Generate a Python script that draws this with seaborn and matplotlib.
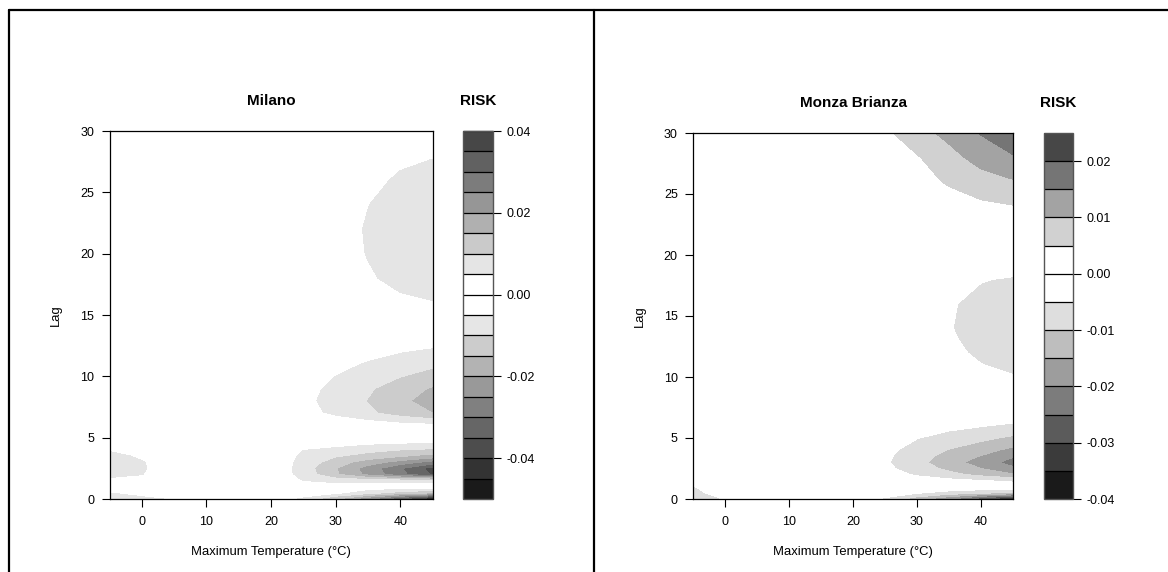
import numpy as np
import matplotlib
matplotlib.use("Agg")
import matplotlib.pyplot as plt
from matplotlib.lines import Line2D
import seaborn as sns

# grid of the risk surfaces
temps = [-5, 0, 5, 10, 15, 20, 25, 30, 35, 40, 45]
lags = [0, 0.5, 1, 1.5, 2, 2.5, 3, 3.5, 4, 5, 6, 7, 8, 9, 10, 11, 12, 13, 14,
        16, 18, 20, 22, 24, 26, 28, 30]

# Milano, rows = lags, columns = temps (values x 0.001)
milano_risk = np.array([
    [-11, -7.5, -4.9, -2, -1, -2, -7, -15, -25, -36, -47],
    [-5.8, -3, -1, 0, 0, 0, -1, -4, -8, -12, -15],
    [-1, 0, 0, 0, 0, 0, -2, -3, -2.5, -2.2, -2],
    [3.5, 2.5, 0.5, 0, 0, -0.5, -5.5, -7, -7.5, -8, -8],
    [6.5, 5.1, 2, 0, -0.3, -1, -7.1, -14.2, -21.3, -28.4, -35.5],
    [7.5, 5.5, 2.3, 0, -0.3, -1, -7.4, -14.8, -22.2, -29.6, -37],
    [7.5, 5.3, 2.3, 0, -0.2, -0.8, -7, -12.5, -17.5, -22, -27],
    [6.5, 4.2, 1.8, 0, -0.2, -0.6, -6.3, -9.5, -12, -14.5, -17],
    [4.5, 3, 1, 0, 0, -0.4, -5.2, -6.5, -8.5, -10, -11],
    [1, 0.5, 0, 0, 0, 0, -0.5, -1, -1, -1, -1],
    [0, 0, 0, 0, 0, -0.4, -0.8, -1.5, -2.4, -3.3, -4],
    [0, 0, 0, 0, -0.5, -1.4, -3.2, -6.2, -9, -12.3, -15],
    [0, 0, 0, 0, -0.5, -1.6, -3.8, -7, -10.2, -14, -17],
    [0, 0, 0, 0, -0.5, -1.5, -3.4, -6.4, -9.3, -12.7, -15.5],
    [0, 0, 0, 0, -0.4, -1.2, -2.7, -5.2, -7.4, -9.8, -12],
    [0, 0, 0, 0, -0.3, -0.8, -1.8, -3.6, -5.6, -7.4, -9],
    [0, 0, 0, 0, -0.2, -0.5, -1.2, -2.3, -3.6, -4.9, -6],
    [0, 0, 0, 0, 0, -0.3, -0.6, -1.1, -1.8, -2.5, -3],
    [0, 0, 0, 0, 0, 0.1, 0.3, 0.7, 1.3, 1.8, 2],
    [0, 0, 0, 0, 0, 0.2, 0.7, 1.7, 3.0, 4.2, 4.8],
    [0, 0, 0, 0, 0, 0.3, 1.0, 2.4, 4.5, 6.1, 7.0],
    [0, 0, 0, 0, 0, 0.3, 1.1, 2.9, 5.2, 7.2, 8.2],
    [0, 0, 0, 0, 0, 0.3, 1.2, 3.0, 5.4, 7.5, 8.5],
    [0, 0, 0, 0, 0, 0.3, 1.1, 2.7, 4.9, 6.9, 7.8],
    [0, 0, 0, 0, 0, 0.2, 0.9, 2.2, 4.0, 5.5, 6.2],
    [0, 0, 0, 0, 0, 0.2, 0.7, 1.7, 3.0, 4.2, 4.8],
    [0, 0, 0, 0, 0, 0.1, 0.4, 1.0, 2.0, 2.6, 3.0],
]) / 1000

# Monza Brianza
monza_risk = np.array([
    [-7.5, -4.8, -1.5, -0.5, -0.5, -1.5, -6, -13, -20, -29, -38],
    [-6.5, -2.5, -0.5, 0, 0, 0, -1.5, -4.5, -7, -9, -11],
    [-5.3, -1.5, 0, 0, 0, 0, -0.3, -0.6, -0.9, -1.2, -1.5],
    [-3, -0.5, 0, 0, 0, -0.3, -1.2, -2.5, -3.5, -4.7, -6],
    [-1, 0, 0, 0, 0, -0.7, -2.8, -5.6, -8.5, -11.4, -14.5],
    [0, 0, 0, 0, -0.2, -1, -3.8, -7.5, -11.2, -15, -19],
    [0, 0, 0, 0, -0.2, -1.1, -4.3, -8.5, -12.9, -17.3, -22],
    [0, 0, 0, 0, -0.2, -1, -4, -8, -11.8, -15.3, -19.5],
    [0, 0, 0, 0, -0.2, -0.9, -3.5, -7.2, -10.3, -13, -16.5],
    [0, 0, 0, 0, -0.1, -0.6, -2.3, -4.8, -7, -8.8, -11],
    [0, 0, 0, 0, 0, -0.3, -1, -2, -3.5, -4.7, -6],
    [0, 0, 0, 0, 0, 0, -0.3, -0.5, -0.9, -1.2, -1.5],
    [0, 0, 0, 0, 0, 0, -0.1, -0.3, -0.6, -0.85, -1],
    [0, 0, 0, 0, 0, 0, -0.3, -0.8, -1.4, -2.1, -2.5],
    [0, 0, 0, 0, 0, -0.2, -0.6, -1.4, -2.7, -4.1, -4.8],
    [0, 0, 0, 0, 0, -0.2, -0.7, -1.7, -3.3, -4.9, -5.8],
    [0, 0, 0, 0, 0, -0.3, -0.8, -2, -3.9, -5.8, -6.8],
    [0, 0, 0, 0, 0, -0.3, -0.9, -2.3, -4.3, -6.5, -7.6],
    [0, 0, 0, 0, 0, -0.3, -1, -2.5, -4.7, -7, -8.2],
    [0, 0, 0, 0, 0, -0.3, -0.9, -2.3, -4.4, -6.6, -7.8],
    [0, 0, 0, 0, 0, -0.2, -0.7, -1.6, -3.1, -4.7, -5.5],
    [0, 0, 0, 0, 0, 0, -0.2, -0.3, -0.6, -0.9, -1],
    [0, 0, 0, 0, 0, 0, 0, 0.3, 0.8, 1.2, 1.5],
    [0, 0, 0, 0, 0, 0, 0.4, 1.2, 2.5, 4.0, 4.8],
    [0, 0, 0, 0, 0, 0.3, 1.2, 3.0, 5.6, 7.8, 9.5],
    [0, 0, 0, 0, 0, 0.8, 2.4, 4.6, 8.2, 12.0, 14.5],
    [0, 0, 0, 0, 0.3, 1.5, 4, 8, 11.5, 15.3, 19],
]) / 1000

milano_levels = np.arange(-50, 45, 5) / 1000
monza_levels = np.arange(-40, 30, 5) / 1000
milano_ticks = [-0.04, -0.02, 0.0, 0.02, 0.04]
monza_ticks = [-0.04, -0.03, -0.02, -0.01, 0.0, 0.01, 0.02]

sns.set_style("ticks")
plt.rcParams["font.family"] = ["Liberation Sans", "DejaVu Sans"]
plt.rcParams["axes.unicode_minus"] = False
for key in ["text.color", "axes.labelcolor", "xtick.color", "ytick.color"]:
    plt.rcParams[key] = "black"

W, H = 1168, 572
fig = plt.figure(figsize=(W / 100, H / 100), dpi=100)


def box(x0, y_top, x1, y_bot):
    return [x0 / W, 1 - y_bot / H, (x1 - x0) / W, (y_bot - y_top) / H]


def gray_colors(levels):
    # white -> gray28 above zero, white -> gray10 below zero
    n_pos = int(round(levels[-1] / 0.005))
    n_neg = int(round(-levels[0] / 0.005))
    pos = np.linspace(1.0, 71 / 255, n_pos)
    neg = np.linspace(1.0, 26 / 255, n_neg)
    cols = []
    for lo, hi in zip(levels[:-1], levels[1:]):
        if lo >= -1e-9:
            g = pos[int(round(lo / 0.005))]
        else:
            g = neg[int(round(-hi / 0.005))]
        cols.append((g, g, g))
    return cols


def panel(ax_box, cax_box, risk, levels, cticks, title, title_y):
    ax = fig.add_axes(box(*ax_box))
    cax = fig.add_axes(box(*cax_box))
    cs = ax.contourf(temps, lags, risk, levels=levels, colors=gray_colors(levels))
    ax.set_xlim(-5, 45)
    ax.set_ylim(0, 30)
    ax.set_xticks([0, 10, 20, 30, 40])
    ax.set_yticks([0, 5, 10, 15, 20, 25, 30])
    ax.tick_params(axis="x", direction="out", length=6, width=0.8, pad=6, labelsize=9)
    ax.tick_params(axis="y", direction="out", length=6, width=0.8, pad=5, labelsize=9)
    for s in ax.spines.values():
        s.set_color("black")
        s.set_linewidth(0.9)
    ax.set_xlabel("Maximum Temperature (°C)", fontsize=9.4, labelpad=13)
    ax.set_ylabel("Lag", fontsize=9.4, labelpad=13)

    cb = fig.colorbar(cs, cax=cax, drawedges=True)
    cb.outline.set_edgecolor("#555555")
    cb.outline.set_linewidth(1.0)
    cb.dividers.set_color("black")
    cb.dividers.set_linewidth(0.9)
    cb.set_ticks(cticks)
    cb.set_ticklabels([f"{t:.2f}" for t in cticks])
    cax.tick_params(direction="out", length=6, width=0.8, pad=4, labelsize=9)

    xc = (ax_box[0] + ax_box[2]) / 2
    cc = (cax_box[0] + cax_box[2]) / 2
    fig.text(xc / W, 1 - title_y / H, title, ha="center", va="center",
             fontsize=11, fontweight="bold")
    fig.text(cc / W, 1 - title_y / H, "RISK", ha="center", va="center",
             fontsize=11, fontweight="bold")


panel((109.5, 131, 432.5, 499), (463, 131, 493, 499),
      milano_risk, milano_levels, milano_ticks, "Milano", 101)
panel((693, 133, 1013, 499), (1044, 133, 1073, 499),
      monza_risk, monza_levels, monza_ticks, "Monza Brianza", 103)

# outer frame of the two panels
for xs, ys in [([9, W], [10, 10]), ([9, 9], [10, H]), ([594, 594], [10, H])]:
    fig.add_artist(Line2D([x / W for x in xs], [1 - y / H for y in ys],
                          transform=fig.transFigure, color="black", lw=1.6))

fig.savefig("out.png", dpi=100)
